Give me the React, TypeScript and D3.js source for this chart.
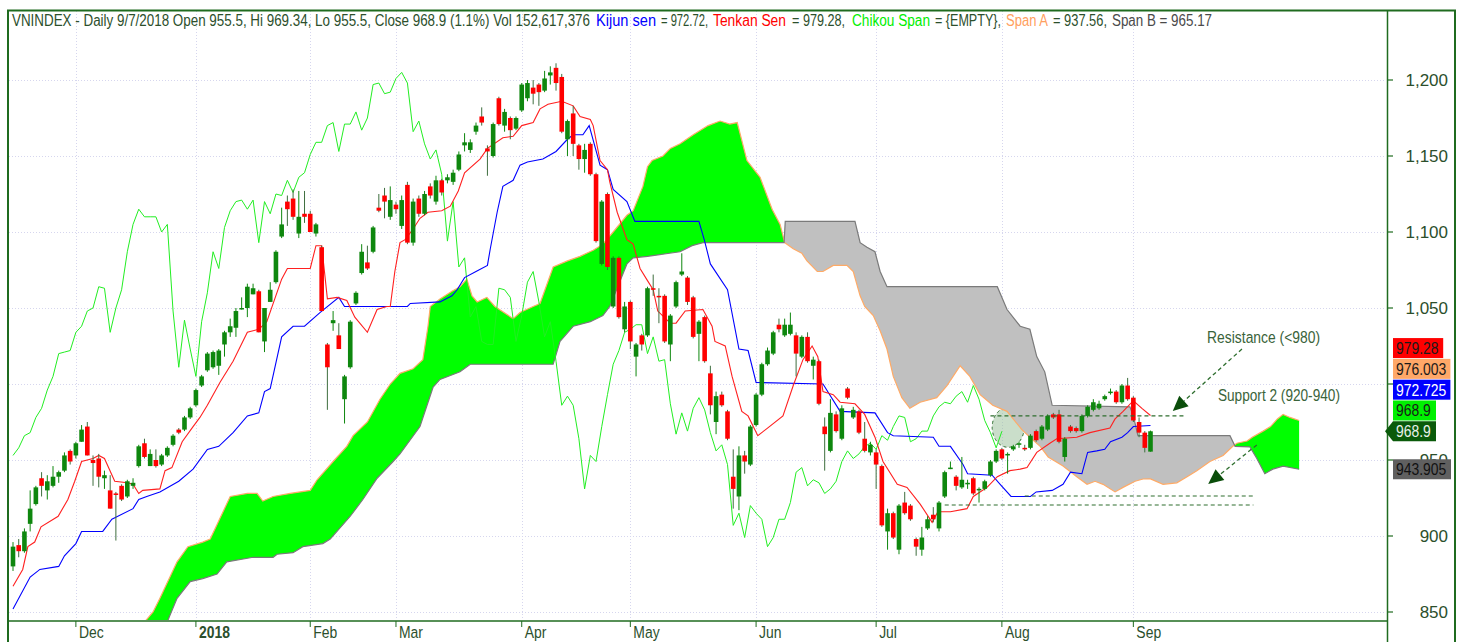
import React from "react";
import * as d3 from "d3";

// ---------- DATA ----------
const opens = [
  880, 894, 890, 908, 921, 938, 930, 933, 939, 943, 956, 953, 962, 972, 950, 951, 938, 930, 928, 933,
  926, 933, 946, 961, 946, 950, 947, 953, 960, 970, 970, 978, 986, 999, 1009, 1011, 1012, 1026, 1034, 1037,
  1049, 1050, 1059, 1061, 1028, 1054, 1067, 1097, 1120, 1122, 1099, 1112, 1112, 1099, 1090, 1026, 1040, 1032, 990, 1011,
  1053, 1073, 1080, 1087, 1116, 1124, 1110, 1118, 1104, 1131, 1093, 1122, 1112, 1130, 1120, 1134, 1134, 1133, 1141, 1157,
  1154, 1166, 1176, 1155, 1150, 1188, 1170, 1175, 1168, 1180, 1188, 1195, 1197, 1193, 1203, 1208, 1202, 1161, 1178, 1157,
  1148, 1158, 1138, 1079, 1125, 1051, 1083, 1036, 1054, 1018, 1032, 1032, 1063, 1058, 1058, 1026, 1051, 1072, 1070, 1057,
  1033, 1044, 1007, 975, 993, 982, 939, 926, 953, 947, 973, 993, 1013, 1020, 1039, 1032, 1033, 1032, 1018, 1031,
  1012, 1015, 972, 956, 980, 964, 997, 978, 982, 964, 955, 955, 946, 903, 915, 891, 922, 920, 898, 891,
  905, 914, 905, 926, 944, 939, 932, 934, 938, 930, 931, 940, 949, 957, 953, 957, 960, 958, 958, 969,
  964, 970, 980, 980, 952, 972, 971, 969, 979, 983, 984, 990, 994, 995, 988, 999, 991, 975, 968, 955.5,
];
const highs = [
  896, 898, 905, 930, 933, 942, 940, 946, 943, 955, 957, 962, 973, 975, 953, 954, 943, 940, 929, 934,
  937, 938, 960, 964, 957, 957, 954, 959, 967, 971, 979, 985, 997, 1006, 1021, 1022, 1023, 1035, 1043, 1050,
  1057, 1066, 1066, 1062, 1050, 1067, 1088, 1116, 1124, 1128, 1127, 1127, 1114, 1106, 1091, 1027, 1048, 1040, 1006, 1042,
  1061, 1092, 1091, 1104, 1125, 1129, 1130, 1120, 1124, 1133, 1122, 1124, 1127, 1132, 1137, 1135, 1138, 1141, 1153, 1165,
  1161, 1172, 1182, 1157, 1172, 1189, 1181, 1176, 1176, 1198, 1200, 1200, 1198, 1206, 1209, 1211, 1204, 1174, 1183, 1158,
  1158, 1159, 1139, 1121, 1126, 1084, 1084, 1054, 1055, 1027, 1033, 1064, 1072, 1063, 1059, 1046, 1068, 1086, 1071, 1058,
  1042, 1045, 1012, 995, 995, 983, 957, 959, 956, 973, 994, 1014, 1024, 1035, 1043, 1043, 1047, 1034, 1032, 1034,
  1018, 1016, 978, 990, 982, 986, 998, 985, 983, 975, 962, 957, 947, 918, 916, 921, 929, 921, 899, 906,
  913, 919, 923, 943, 949, 940, 952, 937, 939, 932, 937, 950, 957, 958, 955, 960, 962, 960, 967, 970,
  973, 980, 981, 983, 965, 973, 972, 980, 986, 990, 989, 993, 997, 996, 1000, 1004, 992, 978, 969, 969.34,
];
const lows = [
  877, 886, 889, 903, 920, 926, 924, 932, 935, 942, 947, 951, 962, 953, 933, 932, 931, 918, 897, 923,
  925, 931, 945, 951, 946, 945, 946, 952, 959, 967, 969, 977, 985, 998, 1008, 1010, 1006, 1018, 1031, 1031,
  1049, 1044, 1059, 1034, 1021, 1054, 1066, 1096, 1104, 1108, 1096, 1106, 1100, 1097, 1048, 983, 1035, 1023, 974, 1010,
  1052, 1072, 1075, 1086, 1113, 1109, 1108, 1112, 1102, 1092, 1091, 1110, 1111, 1122, 1118, 1124, 1132, 1131, 1140, 1153,
  1152, 1164, 1170, 1137, 1149, 1170, 1166, 1161, 1167, 1179, 1186, 1184, 1183, 1192, 1197, 1193, 1165, 1150, 1150, 1141,
  1139, 1137, 1093, 1078, 1075, 1050, 1043, 1034, 1023, 1005, 1022, 1031, 1058, 1040, 1027, 1015, 1050, 1071, 1052, 1030,
  1015, 1014, 980, 967, 985, 963, 918, 917, 941, 946, 972, 992, 1012, 1019, 1034, 1031, 1032, 1005, 1017, 1014,
  1003, 986, 943, 955, 968, 963, 990, 977, 967, 955, 953, 931, 906, 891, 898, 888, 914, 910, 887, 887,
  904, 909, 903, 925, 944, 930, 931, 931, 927, 922, 930, 939, 948, 950, 941, 956, 958, 956, 957, 962,
  963, 969, 977, 961, 949, 968, 968, 968, 978, 982, 983, 989, 993, 987, 987, 989, 975, 965, 955, 955.5,
];
const closes = [
  893, 890, 903, 918, 932, 933, 936, 939, 942, 953, 949, 961, 970, 953, 948, 939, 940, 918, 927, 924,
  936, 935, 959, 952, 954, 946, 953, 958, 966, 968, 978, 984, 996, 1005, 1020, 1021, 1022, 1034, 1038, 1048,
  1050, 1064, 1063, 1034, 1050, 1062, 1087, 1105, 1115, 1110, 1110, 1110, 1100, 1105, 1048, 1011, 1042, 1023, 1005, 1041,
  1060, 1087, 1076, 1103, 1114, 1120, 1121, 1115, 1121, 1093, 1120, 1112, 1125, 1124, 1134, 1126, 1136, 1139, 1151, 1159,
  1159, 1170, 1172, 1153, 1171, 1171, 1179, 1167, 1175, 1197, 1198, 1191, 1192, 1201, 1205, 1198, 1166, 1173, 1158, 1148,
  1154, 1138, 1094, 1120, 1077, 1083, 1044, 1051, 1028, 1026, 1026, 1063, 1062, 1057, 1028, 1045, 1067, 1074, 1054, 1031,
  1041, 1015, 986, 992, 986, 964, 931, 953, 949, 972, 993, 1013, 1022, 1034, 1036, 1039, 1039, 1020, 1031, 1015,
  1016, 987, 967, 981, 969, 984, 991, 983, 968, 956, 960, 947, 907, 915, 899, 920, 915, 911, 893, 899,
  911, 911, 922, 942, 945, 933, 937, 935, 928, 931, 936, 949, 956, 951, 954, 959, 961, 957, 966, 963,
  972, 979, 978, 962, 964, 969, 969, 979, 985, 988, 987, 992, 995, 988, 999, 990, 976, 968, 958, 968.9,
];

// Ichimoku lines as [bar index, value] vertices
const kijun: [number, number][] = [
  [0, 852], [3, 873], [4.7, 878], [8, 880], [9, 887], [11, 895], [12, 903], [15.7, 903], [17.3, 911], [21, 918],
  [22, 924], [23.4, 926], [25.7, 929], [29, 936], [31.5, 944], [34, 957], [36, 959], [38.5, 968], [41, 979], [43, 981],
  [44, 995], [45, 997], [47, 1031], [49, 1038], [51, 1038], [53.7, 1047], [57, 1057], [58, 1051], [69, 1051], [69.5, 1053],
  [74.7, 1054], [76.8, 1058], [77.7, 1062], [79, 1070], [81, 1074], [83, 1078], [83.5, 1089], [84.7, 1113], [85.7, 1130], [87.5, 1134],
  [88.7, 1144], [90, 1146], [92.7, 1148], [95, 1153], [97, 1161], [98, 1164], [99.7, 1164], [100.8, 1170], [102.7, 1144], [104, 1141],
  [105, 1128], [107.4, 1120], [108.8, 1107], [120, 1107], [121, 1094], [122, 1079], [125, 1062], [127, 1023], [128.6, 1022], [130, 1001],
  [141.7, 1000], [144.7, 982], [150.8, 981], [153, 968], [154, 966], [161, 965], [162, 959], [164, 959], [166.2, 947], [167, 941],
  [171.3, 940], [172.7, 934], [174.6, 926], [178, 926], [179, 929], [181.8, 930], [183.7, 934], [185, 942], [187, 941], [188, 955],
  [189.6, 956], [191, 957], [192, 962], [194, 965], [195, 968], [196, 972], [199, 972.72],
];
const tenkan: [number, number][] = [
  [0, 867], [1.7, 878], [2.6, 893], [3.8, 896], [4.9, 906], [7.9, 913], [9.6, 924], [10.8, 936], [12, 949], [14, 951],
  [15, 953], [16, 951], [17.8, 936], [20, 935], [21, 934], [22, 928], [22.7, 930], [25.7, 931], [26.6, 943], [27.8, 945],
  [29.6, 962], [31.5, 972], [32.7, 978], [34, 986], [36.2, 1001], [38.5, 1015], [41, 1034], [43, 1036], [44.4, 1041], [47, 1069],
  [48, 1076], [52, 1076], [53, 1091], [54, 1091], [55, 1056], [56.7, 1057], [58.4, 1055], [59.8, 1044], [62, 1034], [63.7, 1049],
  [65.4, 1051], [66, 1051], [66.8, 1074], [67.7, 1093], [68.6, 1095], [70, 1102], [71.2, 1109], [72.6, 1113], [75, 1114], [76.5, 1117],
  [77.9, 1127], [79, 1139], [81.7, 1148], [83, 1155], [85.7, 1162], [87.5, 1163], [89, 1170], [91, 1172], [92.2, 1181], [93.6, 1184],
  [96, 1186], [98, 1183], [99.2, 1176], [101, 1174], [101.5, 1170], [102.7, 1147], [104, 1141], [104.4, 1133], [105.7, 1113], [107.4, 1095],
  [108.5, 1092], [109.7, 1076], [111, 1068], [112, 1062], [112.8, 1048], [115, 1040], [116, 1040], [117.6, 1048], [120.7, 1049], [122.3, 1038],
  [122.8, 1028], [124.6, 1025], [125.8, 1005], [127.5, 982], [128.6, 979], [130.3, 966], [132, 971], [134.7, 979], [136.5, 999], [138.2, 1016],
  [139.8, 1025], [140.8, 1018], [141.7, 995], [143.5, 993], [144.7, 988], [147.3, 987], [149, 980], [150.8, 965], [152.2, 949], [154.7, 934],
  [156.4, 932], [158.7, 921], [160.8, 909], [161.8, 916], [164, 916], [166.9, 918], [168, 926], [170.4, 932], [172.2, 939], [174.4, 943],
  [176.2, 944], [177.4, 945], [179.1, 955], [181.4, 961], [182.6, 964], [186.1, 965], [188.4, 968], [191.9, 971], [192.8, 977], [194.2, 982],
  [196, 989], [197.5, 984], [199, 979.28],
];
const spanA: [number, number][] = [
  [20, 830], [24.5, 850], [25.7, 859], [28.7, 883], [30.6, 893], [33.2, 896], [34.5, 898], [38, 926], [41, 928], [42.7, 928], [43.7, 923],
  [45.5, 926], [48.5, 928], [52, 930], [53.2, 937], [56, 949], [58.4, 959], [59.5, 966], [62, 975], [64.2, 990], [66, 1000],
  [67.7, 1007], [70, 1010], [71.7, 1016], [72.6, 1038], [73, 1051], [74.7, 1056], [76.8, 1061], [78.2, 1064], [79.4, 1069], [80.3, 1058],
  [81.2, 1054], [82.9, 1057], [84.3, 1051], [87.5, 1043], [88.7, 1047], [91, 1051], [92.2, 1053], [94.5, 1077], [97, 1081], [99.2, 1084],
  [101.5, 1088], [103.2, 1092], [105, 1100], [107.4, 1111], [108.5, 1114], [110.2, 1130], [111, 1143], [111.8, 1147], [113.7, 1150], [115, 1155],
  [116.7, 1158], [119, 1164], [121.6, 1170], [123.7, 1173], [125.4, 1171], [126.7, 1172], [128.4, 1147], [130.7, 1136], [132.8, 1115], [134.2, 1105],
  [135, 1093], [135.4, 1092], [136.5, 1089], [138, 1086], [138.9, 1081], [140.7, 1074], [141.7, 1074], [143.5, 1078], [145.9, 1078], [147, 1074],
  [148.2, 1058], [149, 1051], [150.5, 1045], [151.7, 1035], [152.9, 1023], [154, 1005], [155.5, 991], [156.9, 984], [158.7, 988], [161.6, 991],
  [163.4, 999], [165.7, 1012], [167.4, 1005], [169.2, 993], [171.4, 986], [173.9, 982], [176.5, 970], [177.9, 965], [179.7, 959], [181.1, 952],
  [183.7, 946], [186.1, 939], [187.9, 934], [189.3, 936], [190.7, 934], [192.8, 929], [194.2, 932], [196.3, 936], [197.7, 937.5], [199, 937.56],
  [201.2, 934], [203.6, 935], [205.4, 939], [207.1, 943], [209.4, 949], [211.7, 953], [213.4, 959], [214.1, 961], [215.9, 962.5], [216.8, 965],
  [218.7, 969], [220, 972], [221.2, 977], [222.2, 980], [223.4, 978], [225, 976.003],
];
const spanB: [number, number][] = [
  [20, 820], [25.7, 832], [28.7, 859], [31, 870], [33.2, 872], [35.7, 875], [37.4, 883], [42, 886], [45.5, 886], [46.2, 888],
  [49, 889], [50.7, 893], [54.2, 895], [55.5, 898], [59, 913], [61.2, 924], [63.7, 938], [66.5, 949], [67.7, 954], [71.2, 972],
  [73.5, 998], [74.7, 1003], [78.2, 1008], [80, 1013], [94.5, 1013], [95.7, 1028], [98, 1038], [101, 1041], [103.2, 1045], [104.4, 1051],
  [107.4, 1079], [108.5, 1083], [111, 1084], [116.7, 1087], [118.8, 1091], [120.7, 1093], [134.9, 1093], [135.1, 1107], [147.3, 1107], [148.2, 1093],
  [149.4, 1090], [150.8, 1087], [151.7, 1074], [152.9, 1064], [172.2, 1064], [173.9, 1049], [176.2, 1038], [177.9, 1036], [179.1, 1018], [180.5, 1008],
  [181.8, 986], [195.4, 985], [196, 979], [196.8, 966], [212.9, 966], [213.8, 959], [216.4, 958.6], [217.6, 951], [219, 941], [220.4, 944],
  [222.2, 946], [225, 943.905],
];

const chikouShift = 26;
const priceTicks = [850, 900, 950, 1000, 1050, 1100, 1150, 1200];
const hiddenTicks = [1000]; // covered by the last-value boxes in the reference
const monthLabels = ["Dec", "2018", "Feb", "Mar", "Apr", "May", "Jun", "Jul", "Aug", "Sep"];
const monthIdx = [11, 32, 52, 67, 89, 108, 130, 151, 173, 196];

// annotations (bar index, price)
const resistance = { v: 979, from: 171, to: 205 };
const supports = [
  { v: 926.3, from: 177, to: 217 },
  { v: 920.4, from: 163, to: 217 },
];
const arrows = [
  { from: [215, 1023], to: [202.9, 982.2] },
  { from: [217.6, 959.9], to: [209.1, 934.2] },
];
const notes = [
  { text: "Resistance (<980)", i: 208.9, v: 1027.3, w: 113 },
  { text: "Support 2 (920-940)", i: 210.8, v: 988.5, w: 122 },
];
const ellipseNote = { i: 174.1, v: 971.5 };

const lastLabels = [
  { text: "979.28", bg: "#ff0000", fg: "#1a1a1a", slot: 4 },
  { text: "976.003", bg: "#ffa868", fg: "#1a1a1a", slot: 3 },
  { text: "972.725", bg: "#0000ff", fg: "#ffffff", slot: 2 },
  { text: "968.9", bg: "#00f000", fg: "#1a1a1a", slot: 1 },
];

const FONT = "'Liberation Sans', Arial, sans-serif";
const TXT = "#2c4f2c";
const FRAME = "#1f6b1f";
const SX = 0.82; // narrow-font squeeze

function NText(props: {
  x: number;
  y: number;
  w?: number;
  size?: number;
  fill?: string;
  bold?: boolean;
  children: React.ReactNode;
}) {
  const { x, y, w, size = 17, fill = TXT, bold, children } = props;
  const extra: any = {};
  if (w) {
    extra.textLength = w / SX;
    extra.lengthAdjust = "spacingAndGlyphs";
  }
  return (
    <text
      transform={`translate(${x},${y}) scale(${SX},1)`}
      fontSize={size}
      fill={fill}
      fontWeight={bold ? "bold" : "normal"}
      {...extra}
    >
      {children}
    </text>
  );
}

// piecewise-linear evaluation of a vertex list (geometry helper for the fill split)
function evalAt(P: [number, number][], t: number) {
  if (t <= P[0][0]) return P[0][1];
  for (let k = 1; k < P.length; k++) {
    if (t <= P[k][0]) {
      const [t0, v0] = P[k - 1];
      const [t1, v1] = P[k];
      return t1 === t0 ? v1 : v0 + ((t - t0) / (t1 - t0)) * (v1 - v0);
    }
  }
  return P[P.length - 1][1];
}

type CP = { t: number; a: number; b: number };
function cloudRuns(A: [number, number][], B: [number, number][]) {
  const lo = Math.max(A[0][0], B[0][0]);
  const hi = Math.min(A[A.length - 1][0], B[B.length - 1][0]);
  const ts = Array.from(new Set([...A.map((d) => d[0]), ...B.map((d) => d[0])]))
    .filter((t) => t >= lo && t <= hi)
    .sort((p, q) => p - q);
  const pts: CP[] = ts.map((t) => ({ t, a: evalAt(A, t), b: evalAt(B, t) }));
  const runs: { up: boolean; pts: CP[] }[] = [];
  let cur: CP[] = [pts[0]];
  for (let k = 1; k < pts.length; k++) {
    const p0 = pts[k - 1], p1 = pts[k];
    const d0 = p0.a - p0.b, d1 = p1.a - p1.b;
    if (d0 * d1 < 0) {
      const f = d0 / (d0 - d1);
      const t = p0.t + f * (p1.t - p0.t);
      const v = p0.a + f * (p1.a - p0.a);
      const c = { t, a: v, b: v };
      cur.push(c);
      runs.push({ up: d0 > 0, pts: cur });
      cur = [c];
    }
    cur.push(p1);
  }
  const s = cur.reduce((acc, p) => acc + (p.a - p.b), 0);
  runs.push({ up: s >= 0, pts: cur });
  return runs;
}

export default function App() {
  const n = closes.length;
  const x = d3.scaleLinear().domain([0, n - 1]).range([13, 1150.5]);
  const y = d3.scaleLinear().domain([850, 1200]).range([612, 80]);
  const plot = { l: 9, r: 1386, t: 11, b: 620 };

  const line = d3
    .line<[number, number]>()
    .x((d) => x(d[0]))
    .y((d) => y(d[1]));

  const area = d3
    .area<CP>()
    .x((d) => x(d.t))
    .y0((d) => y(d.b))
    .y1((d) => y(d.a));

  const chikou: [number, number][] = closes
    .map((c, i) => [i - chikouShift, c] as [number, number])
    .filter((d) => d[0] >= 0);

  const runs = cloudRuns(spanA, spanB);

  const bw = 4.6;
  const wickCol = "#3e6e3e";
  const upCol = "#0e870e";
  const dnCol = "#ff0000";

  const closeY = y(closes[n - 1]);
  const slotH = 20.8;
  const lastB = spanB[spanB.length - 1][1];

  return (
    <svg
      width={1459}
      height={642}
      style={{ position: "absolute", left: 0, top: 0, background: "#fff" }}
      fontFamily={FONT}
    >
      <defs>
        <clipPath id="plotclip">
          <rect x={plot.l} y={plot.t} width={plot.r - plot.l} height={plot.b - plot.t} />
        </clipPath>
      </defs>
      <rect x={0} y={0} width={1459} height={642} fill="#fff" />

      {/* grid */}
      <g stroke="#d6d6ee" strokeWidth={1} strokeDasharray="1,2">
        {priceTicks.map((p) => (
          <line key={p} x1={plot.l} x2={plot.r} y1={Math.round(y(p)) + 0.5} y2={Math.round(y(p)) + 0.5} />
        ))}
        {monthIdx.map((i) => (
          <line key={i} x1={Math.round(x(i)) + 0.5} x2={Math.round(x(i)) + 0.5} y1={plot.t} y2={plot.b} />
        ))}
      </g>

      <g clipPath="url(#plotclip)">
        {/* annotation ellipse behind the cloud */}
        <ellipse
          cx={x(ellipseNote.i)}
          cy={y(ellipseNote.v)}
          rx={16}
          ry={20}
          fill="rgba(150,190,150,0.5)"
          stroke="#2e6e2e"
          strokeDasharray="3,3"
          strokeWidth={1}
        />
        {/* cloud */}
        {runs.map((r, k) => (
          <path key={k} d={area(r.pts) || ""} fill={r.up ? "#00ff00" : "#c0c0c0"} />
        ))}
        <path d={line(spanA) || ""} fill="none" stroke="#ffaa66" strokeWidth={1.2} />
        <path d={line(spanB) || ""} fill="none" stroke="#7a7a7a" strokeWidth={1.2} />

        {/* chikou, kijun, tenkan */}
        <path d={line(chikou) || ""} fill="none" stroke="#22ee22" strokeWidth={1} />
        <path d={line(kijun) || ""} fill="none" stroke="#0000ff" strokeWidth={1.1} />
        <path d={line(tenkan) || ""} fill="none" stroke="#ff2020" strokeWidth={1.1} />

        {/* candles */}
        {closes.map((c, i) => {
          const o = opens[i];
          const up = c >= o;
          const cx = x(i);
          const top = y(Math.max(o, c));
          const bot = y(Math.min(o, c));
          return (
            <g key={i}>
              <line x1={cx} x2={cx} y1={y(highs[i])} y2={y(lows[i])} stroke={up ? upCol : wickCol} strokeWidth={1} />
              <rect
                x={cx - bw / 2}
                y={top}
                width={bw}
                height={Math.max(1.5, bot - top)}
                fill={up ? upCol : dnCol}
              />
            </g>
          );
        })}

        {/* dashed levels */}
        <g stroke="#2e6e2e" strokeWidth={1.2} strokeDasharray="4,3">
          <line x1={x(resistance.from)} x2={x(resistance.to)} y1={y(resistance.v)} y2={y(resistance.v)} />
          {supports.map((s, k) => (
            <line key={k} x1={x(s.from)} x2={x(s.to)} y1={y(s.v)} y2={y(s.v)} />
          ))}
        </g>

        {/* arrows */}
        {arrows.map((a, k) => {
          const fx = x(a.from[0]), fy = y(a.from[1]);
          const tx = x(a.to[0]), ty = y(a.to[1]);
          const ang = Math.atan2(ty - fy, tx - fx);
          const L = 15, Wd = 7;
          const bx = tx - L * Math.cos(ang), by = ty - L * Math.sin(ang);
          const px = -Math.sin(ang) * Wd, py = Math.cos(ang) * Wd;
          return (
            <g key={k}>
              <line x1={fx} y1={fy} x2={bx} y2={by} stroke="#2e6e2e" strokeWidth={1.3} strokeDasharray="4,3" />
              <path d={`M${tx},${ty}L${bx + px},${by + py}L${bx - px},${by - py}Z`} fill="#0a4d0a" />
            </g>
          );
        })}

        {notes.map((t, k) => (
          <NText key={k} x={x(t.i)} y={y(t.v)} w={t.w} fill="#3a633a">
            {t.text}
          </NText>
        ))}
      </g>

      {/* frame */}
      <g stroke={FRAME} fill="none">
        <line x1={8} x2={8} y1={10} y2={642} strokeWidth={2} />
        <line x1={7} x2={1456} y1={10.5} y2={10.5} strokeWidth={2} />
        <line x1={1455} x2={1455} y1={10} y2={642} strokeWidth={2} />
        <line x1={1387.5} x2={1387.5} y1={10} y2={642} strokeWidth={1.5} />
        <line x1={8} x2={1388} y1={621} y2={621} strokeWidth={1.5} />
      </g>

      {/* price axis */}
      {priceTicks.map((p) => (
        <g key={p}>
          <line x1={1388} x2={1393} y1={y(p)} y2={y(p)} stroke={FRAME} strokeWidth={1.2} />
          {hiddenTicks.includes(p) ? null : (
            <text x={1448} y={y(p) + 6} textAnchor="end" fontSize={17} fill={TXT}>
              {d3.format(",")(p)}
            </text>
          )}
        </g>
      ))}

      {/* time axis */}
      {monthIdx.map((i, k) => (
        <g key={i}>
          <line x1={x(i)} x2={x(i)} y1={621} y2={627} stroke={FRAME} strokeWidth={1} />
          <NText x={x(i) + 3} y={638} bold={monthLabels[k] === "2018"}>
            {monthLabels[k]}
          </NText>
        </g>
      ))}

      {/* last value labels */}
      {lastLabels.map((l) => {
        const cy = closeY - l.slot * slotH;
        const w = l.text.length * 7.2 + 7;
        return (
          <g key={l.text + l.slot}>
            <rect x={1393} y={cy - 10} width={w} height={20} fill={l.bg} />
            <NText x={1396} y={cy + 6} fill={l.fg}>
              {l.text}
            </NText>
          </g>
        );
      })}
      <g>
        <path
          d={`M1385,${closeY}L1393,${closeY - 10}L1436,${closeY - 10}L1436,${closeY + 10}L1393,${closeY + 10}Z`}
          fill="#0a5a0a"
        />
        <NText x={1396} y={closeY + 6} fill="#e8f0e8">
          {closes[n - 1]}
        </NText>
      </g>
      <g>
        <rect x={1393} y={y(lastB) - 10} width={58} height={20} fill="#606060" />
        <NText x={1396} y={y(lastB) + 6} fill="#111">
          {lastB}
        </NText>
      </g>

      {/* header */}
      <NText x={12} y={26} w={578} size={16}>
        VNINDEX - Daily 9/7/2018 Open 955.5, Hi 969.34, Lo 955.5, Close 968.9 (1.1%) Vol 152,617,376
      </NText>
      <NText x={596} y={26} w={60} size={16} fill="#0000ff">Kijun sen</NText>
      <NText x={661} y={26} w={47} size={16}>= 972.72,</NText>
      <NText x={713} y={26} w={73} size={16} fill="#ff0000">Tenkan Sen</NText>
      <NText x={792} y={26} w={53} size={16}>= 979.28,</NText>
      <NText x={852} y={26} w={78} size={16} fill="#00ee00">Chikou Span</NText>
      <NText x={935} y={26} w={66} size={16}>= {"{EMPTY}"},</NText>
      <NText x={1006} y={26} w={42} size={16} fill="#ffa060">Span A</NText>
      <NText x={1053} y={26} w={54} size={16}>= 937.56,</NText>
      <NText x={1112} y={26} w={100} size={16} fill="#4a4a4a">Span B = 965.17</NText>
    </svg>
  );
}
